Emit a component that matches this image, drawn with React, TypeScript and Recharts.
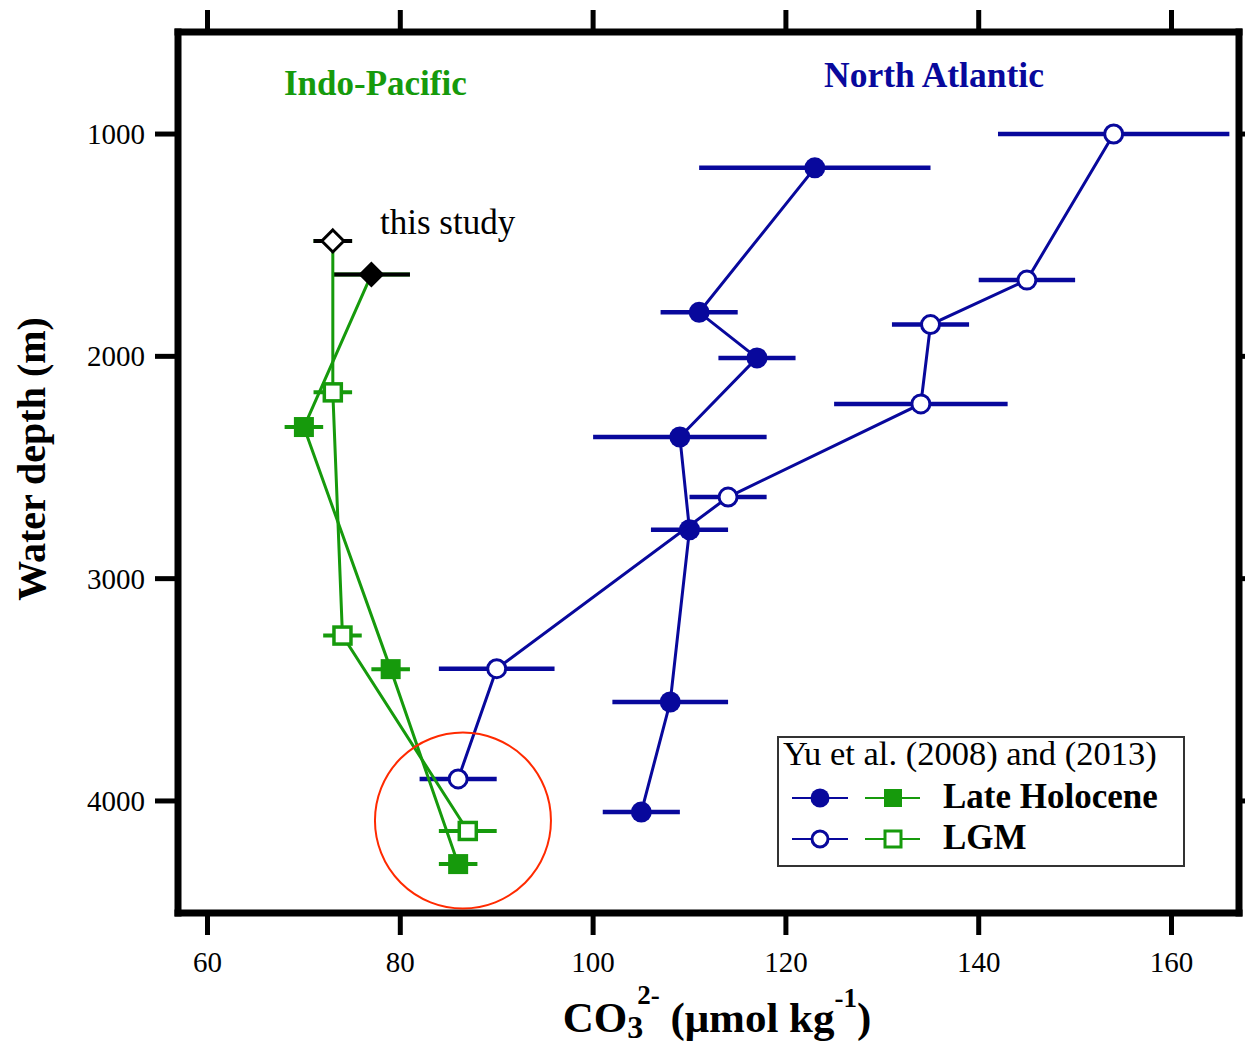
import React from 'react';
import {
  ScatterChart,
  Scatter,
  XAxis,
  YAxis,
  ErrorBar,
  ReferenceDot,
  Legend,
  Customized,
} from 'recharts';

const blue = '#08089c';
const green = '#169a0c';
const serif = '"Liberation Serif", "Times New Roman", serif';

// North Atlantic, Yu et al. (2008) and (2013)
const naHoloCO3 = [123, 111, 117, 109, 110, 108, 105];
const naHoloDepth = [1152, 1802, 2007, 2363, 2780, 3555, 4050];
const naHoloErr = [12, 4, 4, 9, 4, 6, 4];

const naLgmCO3 = [154, 145, 135, 134, 114, 90, 86];
const naLgmDepth = [1000, 1657, 1857, 2214, 2633, 3405, 3901];
const naLgmErr = [12, 5, 4, 9, 4, 6, 4];

// Indo-Pacific
const ipHoloCO3 = [70, 79, 86];
const ipHoloDepth = [2318, 3407, 4284];
const ipHoloErr = [2, 2, 2];

const ipLgmCO3 = [73, 74, 87];
const ipLgmDepth = [2162, 3256, 4135];
const ipLgmErr = [2, 2, 3];

// this study
const studyHoloCO3 = [77];
const studyHoloDepth = [1632];
const studyHoloErr = [4];

const studyLgmCO3 = [73];
const studyLgmDepth = [1481];
const studyLgmErr = [2];

const xTicks = [60, 80, 100, 120, 140, 160];
const yTicks = [1000, 2000, 3000, 4000];

const toRows = (co3: number[], depth: number[], err: number[], study = false) =>
  co3.map((v, i) => ({ co3: v, depth: depth[i], err: err[i], study }));

const naHolo = toRows(naHoloCO3, naHoloDepth, naHoloErr);
const naLgm = toRows(naLgmCO3, naLgmDepth, naLgmErr);
const studyHolo = toRows(studyHoloCO3, studyHoloDepth, studyHoloErr, true);
const studyLgm = toRows(studyLgmCO3, studyLgmDepth, studyLgmErr, true);
// green lines start from this study's points
const ipHolo = [...studyHolo, ...toRows(ipHoloCO3, ipHoloDepth, ipHoloErr)];
const ipLgm = [...studyLgm, ...toRows(ipLgmCO3, ipLgmDepth, ipLgmErr)];

const marker = (kind: string) => (p: any) => {
  const { cx, cy, payload } = p;
  if (cx == null || cy == null || kind === 'none') return <g />;
  const hideStudy = kind === 'square' || kind === 'squareOpen';
  if (hideStudy && payload && payload.study) return <g />;
  switch (kind) {
    case 'circle':
      return <circle cx={cx} cy={cy} r={10.5} fill={blue} />;
    case 'circleOpen':
      return <circle cx={cx} cy={cy} r={9} fill="#fff" stroke={blue} strokeWidth={3} />;
    case 'square':
      return <rect x={cx - 10} y={cy - 10} width={20} height={20} fill={green} />;
    case 'squareOpen':
      return (
        <rect x={cx - 8.5} y={cy - 8.5} width={17} height={17} fill="#fff" stroke={green} strokeWidth={3.5} />
      );
    case 'diamond':
      return <path d={`M${cx},${cy - 13}L${cx + 13},${cy}L${cx},${cy + 13}L${cx - 13},${cy}Z`} fill="#000" />;
    default:
      return (
        <path
          d={`M${cx},${cy - 11}L${cx + 11},${cy}L${cx},${cy + 11}L${cx - 11},${cy}Z`}
          fill="#fff"
          stroke="#000"
          strokeWidth={3}
        />
      );
  }
};

const XTick = (p: any) => (
  <text x={p.x} y={p.y} dy={21} textAnchor="middle" fontFamily={serif} fontSize={29} fill="#000">
    {p.payload.value}
  </text>
);

const YTick = (p: any) => (
  <text x={p.x} y={p.y} dy={10} textAnchor="end" fontFamily={serif} fontSize={29} fill="#000">
    {p.payload.value}
  </text>
);

// frame axes keep their tick marks but show no labels
const NoLabel = () => <g />;

const LegendBox = () => (
  <svg width={408} height={131} style={{ display: 'block', overflow: 'visible' }}>
    <rect x={1} y={1} width={406} height={129} fill="#fff" stroke="#333" strokeWidth={2} />
    <text x={6} y={29} fontFamily={serif} fontSize={34.5} fill="#000">
      Yu et al. (2008) and (2013)
    </text>
    <line x1={15} x2={71} y1={62} y2={62} stroke={blue} strokeWidth={2} />
    <circle cx={43} cy={62} r={9.5} fill={blue} />
    <line x1={88} x2={143} y1={62} y2={62} stroke={green} strokeWidth={2} />
    <rect x={107} y={53} width={18} height={18} fill={green} />
    <text x={166} y={72} fontFamily={serif} fontSize={35} fontWeight="bold" fill="#000">
      Late Holocene
    </text>
    <line x1={15} x2={71} y1={103} y2={103} stroke={blue} strokeWidth={2} />
    <circle cx={43} cy={103} r={8} fill="#fff" stroke={blue} strokeWidth={3} />
    <line x1={88} x2={143} y1={103} y2={103} stroke={green} strokeWidth={2} />
    <rect x={108} y={95} width={16} height={16} fill="#fff" stroke={green} strokeWidth={3} />
    <text x={166} y={113} fontFamily={serif} fontSize={35} fontWeight="bold" fill="#000">
      LGM
    </text>
  </svg>
);

const Annotations = () => (
  <g fontFamily={serif}>
    <text x={284} y={95} fontSize={35} fontWeight="bold" fill={green}>
      Indo-Pacific
    </text>
    <text x={824} y={87} fontSize={35.5} fontWeight="bold" fill={blue}>
      North Atlantic
    </text>
    <text x={380} y={234} fontSize={35} fill="#000">
      this study
    </text>
    <text transform="translate(45,459) rotate(-90)" textAnchor="middle" fontSize={40} fontWeight="bold" fill="#000">
      Water depth (m)
    </text>
    <text x={717} y={1032} textAnchor="middle" fontSize={43} fontWeight="bold" fill="#000">
      CO
      <tspan fontSize={32} dy={6}>3</tspan>
      <tspan fontSize={27} dx={-6} dy={-34}>2-</tspan>
      <tspan dy={28}> (μmol kg</tspan>
      <tspan fontSize={27} dy={-25}>-1</tspan>
      <tspan dy={25}>)</tspan>
    </text>
  </g>
);

const frame = { stroke: '#000', strokeWidth: 7, strokeLinecap: 'square' as const };
const tickStroke = { stroke: '#000', strokeWidth: 5 };
const xDomain = [56.94, 167.0];
const yDomain = [541, 4504];

export default function App() {
  return (
    <div style={{ position: 'absolute', left: 0, top: 0, background: '#fff' }}>
      <ScatterChart width={1245} height={1042} margin={{ top: 31, right: 5, left: 0, bottom: 0 }}>
        <XAxis
          type="number"
          dataKey="co3"
          domain={xDomain}
          ticks={xTicks}
          allowDataOverflow
          height={129}
          axisLine={frame}
          tickLine={tickStroke}
          tickSize={22}
          tickMargin={16}
          tick={<XTick />}
        />
        <XAxis
          xAxisId="top"
          orientation="top"
          type="number"
          dataKey="co3"
          domain={xDomain}
          ticks={xTicks}
          allowDataOverflow
          height={1}
          axisLine={frame}
          tickLine={tickStroke}
          tickSize={22}
          tick={<NoLabel />}
        />
        <YAxis
          type="number"
          dataKey="depth"
          domain={yDomain}
          ticks={yTicks}
          reversed
          allowDataOverflow
          width={178}
          axisLine={frame}
          tickLine={tickStroke}
          tickSize={23}
          tickMargin={10}
          tick={<YTick />}
        />
        <YAxis
          yAxisId="right"
          orientation="right"
          type="number"
          dataKey="depth"
          domain={yDomain}
          ticks={yTicks}
          reversed
          allowDataOverflow
          width={1}
          axisLine={frame}
          tickLine={tickStroke}
          tickSize={7}
          tick={<NoLabel />}
        />
        {/* invisible series so the top and right frame axes are in use */}
        <Scatter
          name="frame"
          data={naLgm}
          xAxisId="top"
          yAxisId="right"
          shape={marker('none')}
          legendType="none"
          isAnimationActive={false}
        />
        <Scatter
          name="North Atlantic Late Holocene"
          data={naHolo}
          line={{ stroke: blue, strokeWidth: 3 }}
          shape={marker('circle')}
          isAnimationActive={false}
        >
          <ErrorBar dataKey="err" direction="x" width={0} stroke={blue} strokeWidth={4.5} />
        </Scatter>
        <Scatter
          name="North Atlantic LGM"
          data={naLgm}
          line={{ stroke: blue, strokeWidth: 3 }}
          shape={marker('circleOpen')}
          isAnimationActive={false}
        >
          <ErrorBar dataKey="err" direction="x" width={0} stroke={blue} strokeWidth={4.5} />
        </Scatter>
        <Scatter
          name="Indo-Pacific LGM"
          data={ipLgm}
          line={{ stroke: green, strokeWidth: 3 }}
          shape={marker('squareOpen')}
          isAnimationActive={false}
        >
          <ErrorBar dataKey="err" direction="x" width={0} stroke={green} strokeWidth={4} />
        </Scatter>
        <Scatter
          name="Indo-Pacific Late Holocene"
          data={ipHolo}
          line={{ stroke: green, strokeWidth: 3 }}
          shape={marker('square')}
          isAnimationActive={false}
        >
          <ErrorBar dataKey="err" direction="x" width={0} stroke={green} strokeWidth={4} />
        </Scatter>
        <Scatter name="this study LGM" data={studyLgm} shape={marker('diamondOpen')} isAnimationActive={false}>
          <ErrorBar dataKey="err" direction="x" width={0} stroke="#000" strokeWidth={4} />
        </Scatter>
        <Scatter name="this study Late Holocene" data={studyHolo} shape={marker('diamond')} isAnimationActive={false}>
          <ErrorBar dataKey="err" direction="x" width={0} stroke="#000" strokeWidth={4} />
        </Scatter>
        <ReferenceDot x={86.5} y={4088} r={88} fill="none" stroke="#ff2a00" strokeWidth={2} />
        <Customized component={Annotations} />
        <Legend
          layout="vertical"
          align="center"
          verticalAlign="middle"
          content={() => <LegendBox />}
          wrapperStyle={{ left: 777, top: 736, width: 408, height: 131 }}
        />
      </ScatterChart>
    </div>
  );
}
